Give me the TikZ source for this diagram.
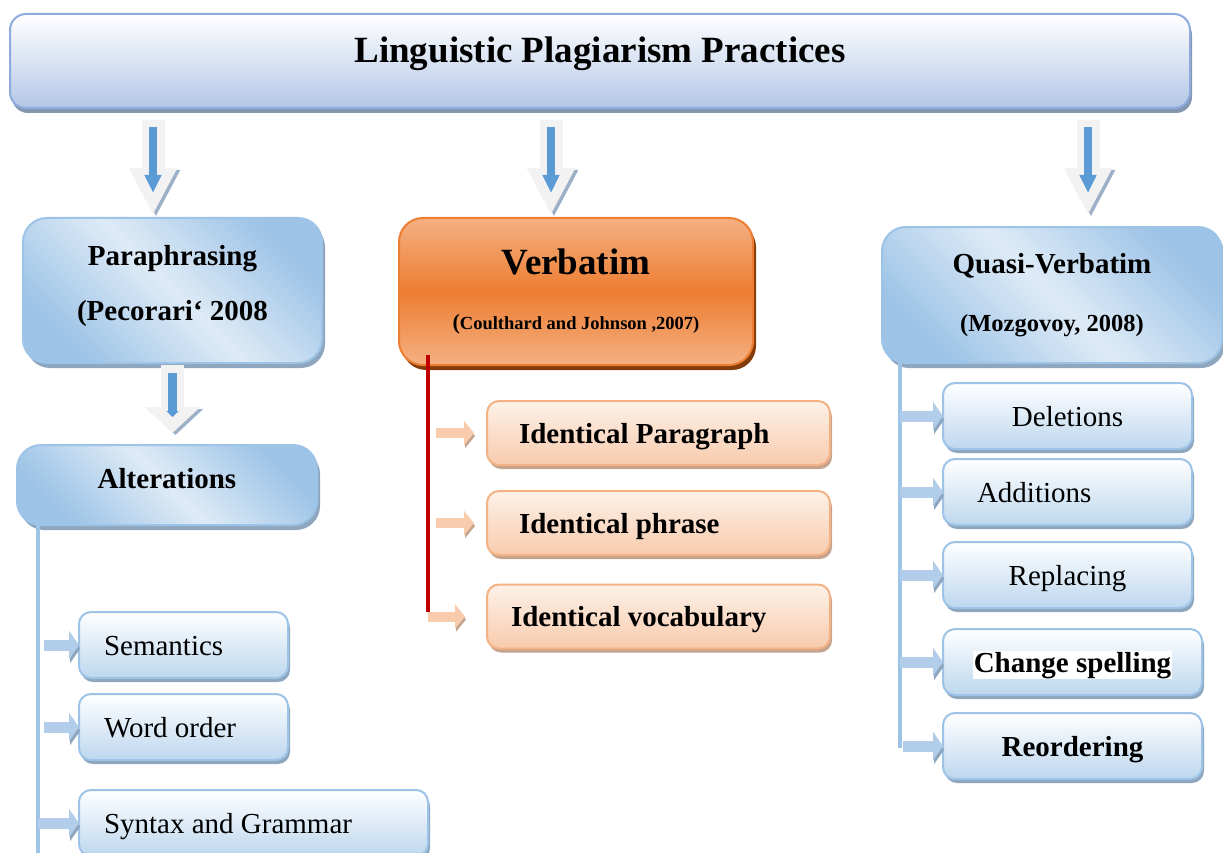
\documentclass[tikz,border=0pt]{standalone}
\usepackage{fontspec}
\setmainfont{Liberation Serif}
\usetikzlibrary{arrows.meta,shadows}
\definecolor{titleedge}{HTML}{8FAADC}
\definecolor{titlelow}{HTML}{B4C7E7}
\definecolor{titleshade}{HTML}{8497B0}
\definecolor{bluedge}{HTML}{9DC3E6}
\definecolor{bluedark}{HTML}{9DC3E6}
\definecolor{bluelight}{HTML}{DEEBF7}
\definecolor{bluelow}{HTML}{BDD7EE}
\definecolor{bluearr}{HTML}{B2CDE9}
\definecolor{blueshade}{HTML}{8FA6BF}
\definecolor{verbmid}{HTML}{ED7D31}
\definecolor{verbtop}{HTML}{F4B183}
\definecolor{verbshade}{HTML}{843C0C}
\definecolor{oredge}{HTML}{F4B183}
\definecolor{orhigh}{HTML}{FDF1E8}
\definecolor{orlow}{HTML}{F8CBAD}
\definecolor{orshade}{HTML}{C4A48E}
\definecolor{verbred}{HTML}{C00000}
\definecolor{arrgray}{HTML}{F2F2F2}
\definecolor{arrshade}{HTML}{9DB0C8}
\definecolor{arrblue}{HTML}{5B9BD5}
\begin{document}
\begin{tikzpicture}[x=1pt,y=-1pt,inner sep=0pt,outer sep=0pt,
titlebox/.style={draw=titleedge,line width=2pt,rounded corners=16pt,top color=white,bottom color=titlelow,
  drop shadow={shadow xshift=2pt,shadow yshift=-5pt,fill=titleshade,opacity=1},font=\fontsize{37}{44}\selectfont\bfseries},
bigbox/.style={draw=bluedge,line width=2pt,rounded corners=24pt,left color=bluedark,right color=bluedark,middle color=bluelight,shading angle=135,
  drop shadow={shadow xshift=3pt,shadow yshift=-5pt,fill=blueshade,opacity=1},font=\fontsize{29}{35}\selectfont\bfseries,align=center},
subbox/.style={draw=bluedge,line width=2pt,rounded corners=12pt,top color=white,bottom color=bluelow,
  drop shadow={shadow xshift=2pt,shadow yshift=-4pt,fill=blueshade,opacity=1},font=\fontsize{29}{35}\selectfont,text height=20pt,text depth=0pt,align=center},
verbbox/.style={draw=verbmid,line width=2pt,rounded corners=24pt,top color=verbtop,bottom color=verbtop,middle color=verbmid,
  drop shadow={shadow xshift=3pt,shadow yshift=-5pt,fill=verbshade,opacity=1},font=\fontsize{18.5}{20}\selectfont\bfseries,align=center},
orbox/.style={draw=oredge,line width=2pt,rounded corners=12pt,top color=orhigh,bottom color=orlow,
  drop shadow={shadow xshift=2pt,shadow yshift=-4pt,fill=orshade,opacity=1},font=\fontsize{29}{35}\selectfont\bfseries,text height=20pt,text depth=0pt,align=flush left},
blueline/.style={draw=bluedge,line width=4pt},
redline/.style={draw=verbred,line width=4pt},
sidearr/.style={draw=bluearr,line width=11pt,-{Triangle[width=28pt,length=10pt]},
  preaction={draw=blueshade,-{Triangle[width=28pt,length=10pt]},transform canvas={shift={(1pt,-4pt)}}}},
orarr/.style={draw=orlow,line width=10pt,-{Triangle[width=24pt,length=10pt]},
  preaction={draw=orshade,-{Triangle[width=24pt,length=10pt]},transform canvas={shift={(1pt,-3pt)}}}},
bigdown/.style={draw=arrgray,line width=23pt,-{Triangle[width=45pt,length=47pt]},shorten >=#1,
  preaction={draw=arrshade,-{Triangle[width=45pt,length=47pt]},transform canvas={shift={(3pt,-2pt)}}},
  postaction={draw=arrblue,line width=8pt,-{Triangle[width=16pt,length=18pt]},shorten <=7pt,shorten >=#1+22pt}},
smalldown/.style={draw=arrgray,line width=23pt,-{Triangle[width=54pt,length=26pt]},shorten <=2pt,shorten >=12pt,
  preaction={draw=arrshade,-{Triangle[width=54pt,length=26pt]},transform canvas={shift={(3pt,-2pt)}}},
  postaction={draw=arrblue,line width=9pt,-{Triangle[width=12pt,length=6pt]},shorten <=10pt,shorten >=28pt}}]
\useasboundingbox (0,0) rectangle (1223,853);
\clip (0,0) rectangle (1223,853);
% header
\draw (600,61) node[titlebox,minimum width=1180pt,minimum height=94pt,text height=25pt,text depth=22pt] (title) {Linguistic Plagiarism Practices};
% paraphrasing column
\draw (172.5,290.5) node[bigbox,minimum width=299pt,minimum height=145pt] (para) {Paraphrasing\\[20pt](Pecorari‘ 2008\rule[-16pt]{0pt}{0pt}};
\draw (167,485) node[bigbox,minimum width=300pt,minimum height=80pt,text height=20pt,text depth=14pt] (alt) {Alterations};
\draw (183.5,645) node[subbox,minimum width=209pt,minimum height=66pt,align=flush left,text width=159pt,inner xsep=25pt] (sem) {Semantics};
\draw (183.5,727) node[subbox,minimum width=209pt,minimum height=66pt,align=flush left,text width=159pt,inner xsep=25pt] (word) {Word order};
\draw (253.5,823) node[subbox,minimum width=349pt,minimum height=66pt,align=flush left,text width=299pt,inner xsep=25pt] (syn) {Syntax and Grammar};
% verbatim column
\draw (576,291.5) node[verbbox,minimum width=354pt,minimum height=147pt] (verb) {{\fontsize{37}{44}\selectfont Verbatim}\\[35pt]{\fontsize{22}{22}\selectfont(}Coulthard and Johnson ,2007)};
\draw (658.5,433) node[orbox,minimum width=343pt,minimum height=64pt,text width=279pt,inner xsep=32pt] (ipar) {Identical Paragraph};
\draw (658.5,523) node[orbox,minimum width=343pt,minimum height=64pt,text width=279pt,inner xsep=32pt] (iphr) {Identical phrase};
\draw (658.5,616.5) node[orbox,minimum width=343pt,minimum height=64pt,text width=295pt,inner xsep=24pt] (ivoc) {Identical vocabulary};
% quasi-verbatim column
\draw (1052,295) node[bigbox,minimum width=340pt,minimum height=136pt] (quasi) {Quasi-Verbatim\\[23pt]{\fontsize{24.5}{24.5}\selectfont(Mozgovoy, 2008)}};
\draw (1067.5,416) node[subbox,minimum width=249pt,minimum height=66pt] (del) {Deletions};
\draw (1067.5,492) node[subbox,minimum width=249pt,minimum height=66pt,align=flush left,text width=181pt,inner xsep=34pt] (add) {Additions};
\draw (1067.5,575) node[subbox,minimum width=249pt,minimum height=66pt] (rep) {Replacing};
\draw (1072.5,662) node[subbox,minimum width=259pt,minimum height=66pt,font=\fontsize{29}{35}\selectfont\bfseries] (chg) {{\setlength{\fboxsep}{1pt}\colorbox{white}{Change spelling}}};
\draw (1072.5,746) node[subbox,minimum width=259pt,minimum height=66pt,font=\fontsize{29}{35}\selectfont\bfseries] (reo) {Reordering};
% connectors
\coordinate (d1) at (153,120);
\coordinate (d2) at (551,120);
\coordinate (d3) at (1088,120);
\coordinate (lend) at (38,860);
\coordinate (vend) at (428,612);
\coordinate (qend) at (900,748);
\draw[bigdown=3pt] (d1) -- (d1 |- para.north);
\draw[bigdown=3pt] (d2) -- (d2 |- verb.north);
\draw[bigdown=12pt] (d3) -- (d3 |- quasi.north);
\draw[smalldown] (para.south) -- (para.south |- alt.north);
\draw[blueline] (alt.south west) ++(21,0) -- (lend);
\draw[sidearr] (lend |- sem.west) ++(6,0) -- (sem.west);
\draw[sidearr] (lend |- word.west) ++(6,0) -- (word.west);
\draw[sidearr] (lend |- syn.west) -- (syn.west);
\draw[redline] (verb.south west) ++(29,-10) -- (vend);
\draw[orarr,shorten >=13pt] (vend |- ipar.west) ++(8,0) -- (ipar.west);
\draw[orarr,shorten >=13pt] (vend |- iphr.west) ++(8,0) -- (iphr.west);
\draw[orarr,shorten >=22pt] (vend |- ivoc.west) -- (ivoc.west);
\draw[blueline] (quasi.south west) ++(18,0) -- (qend);
\draw[sidearr] (qend |- del.west) -- (del.west);
\draw[sidearr] (qend |- add.west) -- (add.west);
\draw[sidearr] (qend |- rep.west) -- (rep.west);
\draw[sidearr] (qend |- chg.west) -- (chg.west);
\draw[sidearr] (qend |- reo.west) ++(3,0) -- (reo.west);
\end{tikzpicture}
\end{document}
